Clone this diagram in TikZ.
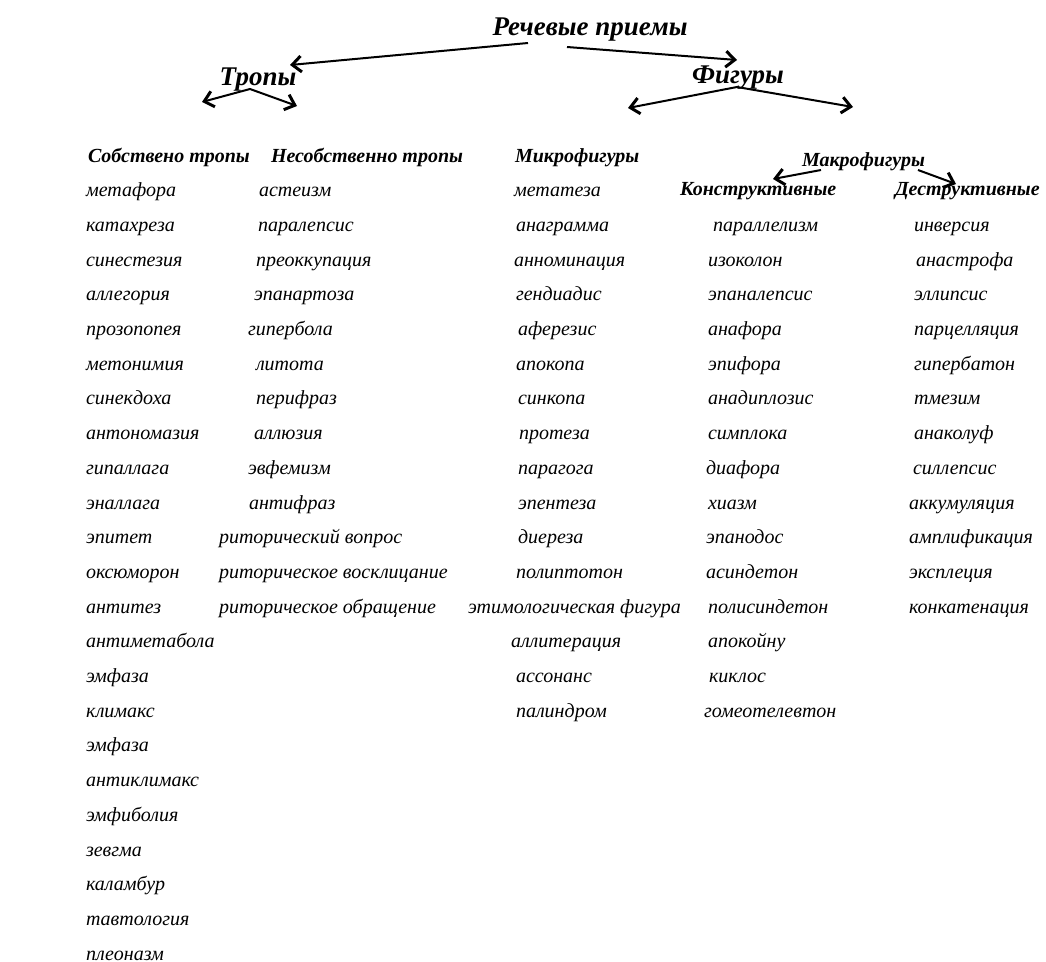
\documentclass[tikz,border=0pt]{standalone}
\usepackage{fontspec}
\setmainfont{Liberation Serif}
\usepackage{tikz}
\usetikzlibrary{arrows.meta}

\newcommand{\termfont}{\itshape\fontsize{20}{24}\selectfont}
\newcommand{\headfont}{\bfseries\itshape\fontsize{20}{24}\selectfont}
\newcommand{\titlefont}{\bfseries\itshape\fontsize{27}{32}\selectfont}

\begin{document}
\begin{tikzpicture}[x=1pt, y=-1pt, line width=2pt,
    >={Straight Barb[length=9pt,width=16pt,line width=3pt]},
    term/.style={anchor=base west, inner sep=0pt, font=\termfont},
    head/.style={anchor=base west, inner sep=0pt, font=\headfont},
    title/.style={anchor=base, inner sep=0pt, font=\titlefont}]
  \useasboundingbox (0,0) rectangle (1046,961);

  \node[title] (priemy) at (590,35) {Речевые приемы};
  \node[title] (tropy) at (258,85) {Тропы};
  \node[title] (figury) at (738,83) {Фигуры};

  \node[head] (sobtr) at (87,162) {Собствено тропы};
  \node[head] (nesobtr) at (270,162) {Несобственно тропы};
  \node[head] (mikro) at (514,162) {Микрофигуры};
  \node[head] (makro) at (801,166) {Макрофигуры};
  \node[head] (konstr) at (679,195) {Конструктивные};
  \node[head] (destr) at (894,195) {Деструктивные};

  \foreach \t [count=\i] in {метафора, катахреза, синестезия, аллегория,
      прозопопея, метонимия, синекдоха, антономазия, гипаллага, эналлага,
      эпитет, оксюморон, антитез, антиметабола, эмфаза, климакс, эмфаза,
      антиклимакс, эмфиболия, зевгма, каламбур, тавтология, плеоназм}
    \node[term] (sob-\i) at (85,{162+34.7*\i}) {\t};

  \foreach \x/\t [count=\i] in {258/астеизм, 257/паралепсис,
      255/преоккупация, 253/эпанартоза, 247/гипербола, 255/литота,
      255/перифраз, 253/аллюзия, 247/эвфемизм, 248/антифраз,
      218/риторический вопрос, 218/риторическое восклицание,
      218/риторическое обращение}
    \node[term] (nes-\i) at (\x,{162+34.7*\i}) {\t};

  \foreach \x/\t [count=\i] in {513/метатеза, 515/анаграмма,
      513/анноминация, 515/гендиадис, 517/аферезис, 515/апокопа,
      517/синкопа, 518/протеза, 517/парагога, 517/эпентеза, 517/диереза,
      515/полиптотон, 467/этимологическая фигура, 510/аллитерация,
      515/ассонанс, 515/палиндром}
    \node[term] (mikro-\i) at (\x,{162+34.7*\i}) {\t};

  \foreach \x/\t [count=\i] in {712/параллелизм, 707/изоколон,
      707/эпаналепсис, 707/анафора, 707/эпифора, 707/анадиплозис,
      707/симплока, 705/диафора, 707/хиазм, 705/эпанодос, 705/асиндетон,
      707/полисиндетон, 707/апокойну, 708/киклос, 703/гомеотелевтон}
    \node[term] (konstr-\i) at (\x,{162+34.7*(\i+1)}) {\t};

  \foreach \x/\t [count=\i] in {913/инверсия, 915/анастрофа,
      913/эллипсис, 913/парцелляция, 913/гипербатон, 913/тмезим,
      913/анаколуф, 912/силлепсис, 908/аккумуляция, 908/амплификация,
      908/эксплеция, 908/конкатенация}
    \node[term] (destr-\i) at (\x,{162+34.7*(\i+1)}) {\t};

  \coordinate (tropy-l) at ([shift={(-56,17)}]tropy.base);
  \coordinate (tropy-r) at ([shift={(39,21)}]tropy.base);
  \coordinate (figury-l) at ([shift={(-110,25)}]figury.base);
  \coordinate (figury-r) at ([shift={(115,24)}]figury.base);

  \draw[->] ([shift={(-62,8)}]priemy.base) -- ([shift={(32,-20)}]tropy.base);
  \draw[->] ([shift={(-23,12)}]priemy.base) -- ([shift={(-1,-23)}]figury.base);
  \draw[<->] (tropy-l) -- ([shift={(-8,4)}]tropy.base) -- (tropy-r);
  \draw[<->] (figury-l) -- ([shift={(-1,4)}]figury.base) -- (figury-r);
  \draw[->] ([shift={(20,4)}]makro.base west) -- ([shift={(94,-16)}]konstr.base west);
  \draw[->] ([shift={(117,4)}]makro.base west) -- ([shift={(62,-11)}]destr.base west);
\end{tikzpicture}
\end{document}
